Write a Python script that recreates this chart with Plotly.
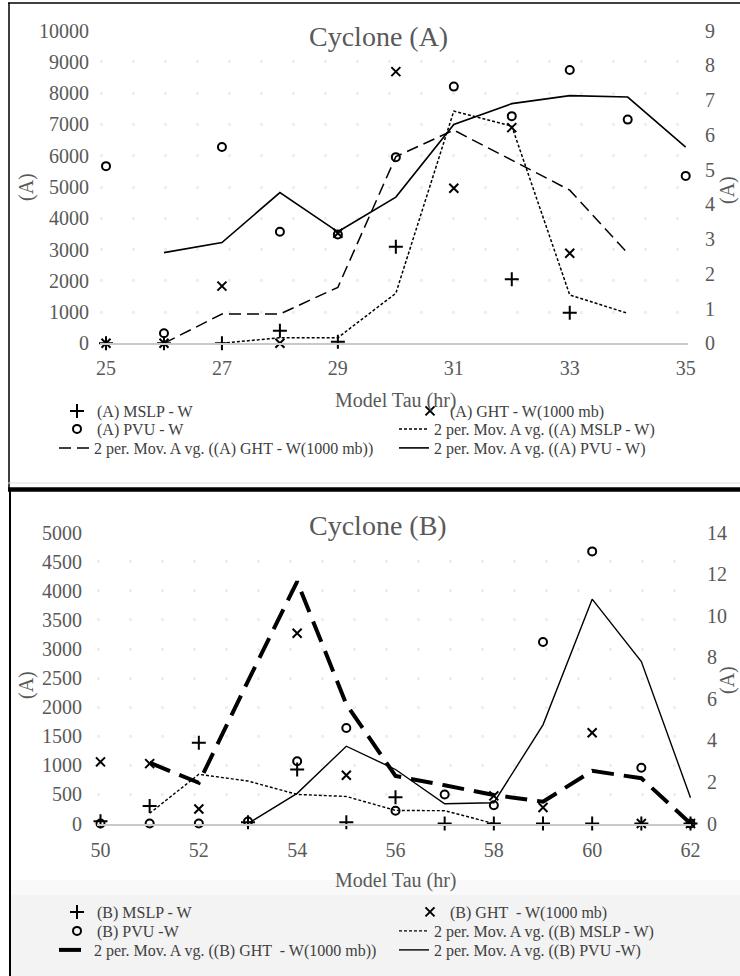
import plotly.graph_objects as go

W, H = 740, 976

# ---------------- Cyclone (A) ----------------
tau_a = [25, 26, 27, 28, 29, 30, 31, 32, 33, 34, 35]
mslp_a = [0, 0, 0, 400, 50, 3090, None, 2050, 980, None, None]
ght_a = [0, 0, 1830, 0, 3520, 8690, 4960, 6900, 2880, None, None]
pvu_a = [5.10, 0.29, 5.65, 3.21, 3.13, 5.36, 7.39, 6.54, 7.87, 6.44, 4.82]
ma_mslp_a = [None, None, 0, 180, 180, 1600, 7430, 6950, 1545, 960, None]
ma_ght_a = [None, 0, 937, 937, 1790, 5970, 6820, 5860, 4900, 2880, None]
ma_pvu_a = [None, 2.61, 2.90, 4.34, 3.21, 4.21, 6.30, 6.90, 7.13, 7.09, 5.65]
yticks_a = list(range(0, 10001, 1000))
y2ticks_a = list(range(0, 10))

# ---------------- Cyclone (B) ----------------
tau_b = [50, 51, 52, 53, 54, 55, 56, 57, 58, 59, 60, 61, 62]
mslp_b = [40, 300, 1390, 20, 930, 20, 450, 0, 0, 0, 0, 0, 0]
ght_b = [1060, 1030, 250, None, 3270, 830, None, None, 475, 275, 1560, 0, 0]
pvu_b = [0, 0, 0, 0.1, 3.0, 4.6, 0.61, 1.40, 0.88, 8.74, 13.1, 2.68, 0]
ma_mslp_b = [None, 175, 846, 730, 500, 465, 225, 220, 0, None, None, None, None]
ma_ght_b = [None, 1045, 700, 2450, 4160, 2050, 817, 657, 490, 375, 905, 778, 0]
ma_pvu_b = [None, None, None, 0, 1.45, 3.72, 2.6, 0.95, 1.0, 4.75, 10.8, 7.8, 1.24]
yticks_b = list(range(0, 5001, 500))
y2ticks_b = list(range(0, 15, 2))

names_a = ["(A) MSLP - W", "(A) GHT - W(1000 mb)", "(A) PVU - W",
           "2 per. Mov. A vg. ((A) MSLP - W)",
           "2 per. Mov. A vg. ((A) GHT - W(1000 mb))",
           "2 per. Mov. A vg. ((A) PVU - W)"]
names_b = ["(B) MSLP - W", "(B) GHT  - W(1000 mb)", "(B) PVU -W",
           "2 per. Mov. A vg. ((B) MSLP - W)",
           "2 per. Mov. A vg. ((B) GHT  - W(1000 mb))",
           "2 per. Mov. A vg. ((B) PVU -W)"]

SERIF = "Liberation Serif, Times New Roman, serif"
TXT = "#595959"


def px(x):
    return x / W


def py(y):
    return 1 - y / H


fig = go.Figure()


def marker_trace(x, y, name, symbol, xa, ya, legend, rank, size=10, lw=2):
    return go.Scatter(x=x, y=y, name=name, mode="markers", xaxis=xa, yaxis=ya,
                      legend=legend, legendrank=rank, cliponaxis=False,
                      marker=dict(symbol=symbol, size=size, color="black",
                                  line=dict(color="black", width=lw)))


def line_trace(x, y, name, dash, width, xa, ya, legend, rank):
    return go.Scatter(x=x, y=y, name=name, mode="lines", xaxis=xa, yaxis=ya,
                      legend=legend, legendrank=rank, connectgaps=False,
                      line=dict(color="black", width=width, dash=dash))


# top chart
fig.add_trace(line_trace(tau_a, ma_mslp_a, names_a[3], "3px,2px", 1.5, "x", "y", "legend2", 4))
fig.add_trace(line_trace(tau_a, ma_ght_a, names_a[4], "12px,6px", 1.5, "x", "y", "legend3", 5))
fig.add_trace(line_trace(tau_a, ma_pvu_a, names_a[5], "solid", 1.6, "x", "y2", "legend3", 6))
fig.add_trace(marker_trace(tau_a, mslp_a, names_a[0], "cross-thin", "x", "y", "legend", 1))
fig.add_trace(marker_trace(tau_a, ght_a, names_a[1], "x-thin", "x", "y", "legend", 2, size=9))
fig.add_trace(marker_trace(tau_a, pvu_a, names_a[2], "circle-open", "x", "y2", "legend2", 3, size=8))

# bottom chart
fig.add_trace(line_trace(tau_b, ma_mslp_b, names_b[3], "3px,2px", 1.4, "x2", "y3", "legend5", 4))
fig.add_trace(line_trace(tau_b, ma_ght_b, names_b[4], "22px,10px", 4, "x2", "y3", "legend6", 5))
fig.add_trace(line_trace(tau_b, ma_pvu_b, names_b[5], "solid", 1.4, "x2", "y4", "legend6", 6))
fig.add_trace(marker_trace(tau_b, mslp_b, names_b[0], "cross-thin", "x2", "y3", "legend4", 1))
fig.add_trace(marker_trace(tau_b, ght_b, names_b[1], "x-thin", "x2", "y3", "legend4", 2, size=9))
fig.add_trace(marker_trace(tau_b, pvu_b, names_b[2], "circle-open", "x2", "y4", "legend5", 3, size=8))

tickfont = dict(family=SERIF, size=20, color=TXT)
grid = dict(showgrid=True, gridcolor="#efefef", gridwidth=3, griddash="3px,29px")

xa = dict(range=[24.8965, 35.04], domain=[px(100), px(688)], anchor="y",
          tickvals=[25, 27, 29, 31, 33, 35], ticks="", showgrid=False,
          showline=True, linecolor="#c9c9c9", linewidth=1.5, zeroline=False,
          tickfont=tickfont, ticklabelstandoff=6)
ya = dict(range=[0, 10000], domain=[py(343.3), py(30.7)], anchor="x",
          tickvals=yticks_a, ticktext=[str(v) for v in yticks_a], ticks="",
          zeroline=False, tickfont=tickfont, ticklabelstandoff=10, **grid)
ya2 = dict(range=[0, 9], overlaying="y", side="right", anchor="x",
           tickvals=y2ticks_a, ticks="", showgrid=False, zeroline=False,
           tickfont=tickfont, ticklabelstandoff=16)

xb = dict(range=[49.929, 62.01], domain=[px(97), px(691)], anchor="y3",
          tickvals=[50, 52, 54, 56, 58, 60, 62], ticks="", showgrid=False,
          showline=True, linecolor="#c9c9c9", linewidth=1.5, zeroline=False,
          tickfont=tickfont, ticklabelstandoff=8)
yb = dict(range=[0, 5000], domain=[py(823.5), py(532.7)], anchor="x2",
          tickvals=yticks_b, ticktext=[str(v) for v in yticks_b], ticks="",
          zeroline=False, tickfont=tickfont, ticklabelstandoff=14, **grid)
yb2 = dict(range=[0, 14], overlaying="y3", side="right", anchor="x2",
           tickvals=y2ticks_b, ticks="", showgrid=False, zeroline=False,
           tickfont=tickfont, ticklabelstandoff=15)

legfont = dict(family=SERIF, size=16, color="#404040")


def leg(xp, yp, ew):
    return dict(x=px(xp), y=py(yp), xanchor="left", yanchor="middle",
                orientation="h", entrywidth=ew, entrywidthmode="pixels",
                bgcolor="rgba(0,0,0,0)", borderwidth=0, font=legfont,
                traceorder="normal", itemclick=False)


ann = []


def text(x, y, s, size, angle=0, color=TXT):
    ann.append(dict(x=px(x), y=py(y), xref="paper", yref="paper", text=s,
                    showarrow=False, textangle=angle,
                    font=dict(family=SERIF, size=size, color=color),
                    xanchor="center", yanchor="middle"))


text(378, 37, "Cyclone (A)", 28)
text(396, 400, "Model Tau (hr)", 20)
text(27, 187, "(A)", 20, -90)
text(727, 190, "(A)", 20, -90)
text(378, 525, "Cyclone (B)", 28)
text(396, 880, "Model Tau (hr)", 20)
text(26, 685, "(A)", 20, -90)
text(727, 680, "(A)", 20, -90)

shapes = [
    dict(type="rect", xref="paper", yref="paper", x0=px(11), x1=1, y0=0, y1=py(895),
         fillcolor="#f3f3f3", line=dict(width=0), layer="below"),
    dict(type="rect", xref="paper", yref="paper", x0=px(11), x1=1, y0=py(895), y1=py(880),
         fillcolor="#f9f9f9", line=dict(width=0), layer="below"),
    dict(type="line", xref="paper", yref="paper", x0=px(8), x1=1, y0=py(3), y1=py(3),
         line=dict(color="black", width=1.5)),
    dict(type="line", xref="paper", yref="paper", x0=px(9), x1=px(9), y0=py(3), y1=py(488),
         line=dict(color="black", width=1.5)),
    dict(type="line", xref="paper", yref="paper", x0=px(8), x1=1, y0=py(483), y1=py(483),
         line=dict(color="#dddddd", width=1)),
    dict(type="line", xref="paper", yref="paper", x0=px(8), x1=1, y0=py(489.5), y1=py(489.5),
         line=dict(color="black", width=4.5)),
    dict(type="line", xref="paper", yref="paper", x0=px(10), x1=px(10), y0=py(489), y1=0,
         line=dict(color="black", width=2)),
]

fig.update_layout(
    width=W, height=H, margin=dict(l=0, r=0, t=0, b=0, pad=0, autoexpand=False),
    paper_bgcolor="white", plot_bgcolor="rgba(0,0,0,0)",
    xaxis=xa, yaxis=ya, yaxis2=ya2,
    xaxis2=xb, yaxis3=yb, yaxis4=yb2,
    legend=leg(57, 411, 308),
    legend2=leg(57, 429, 292),
    legend3=leg(54, 448, 295),
    legend4=leg(57, 912, 308),
    legend5=leg(57, 931, 292),
    legend6=leg(54, 950, 295),
    annotations=ann, shapes=shapes, showlegend=True,
)

fig.write_html("out.html", config={"displayModeBar": False},
               post_script="document.body.style.margin='0';document.body.style.overflow='hidden';")
